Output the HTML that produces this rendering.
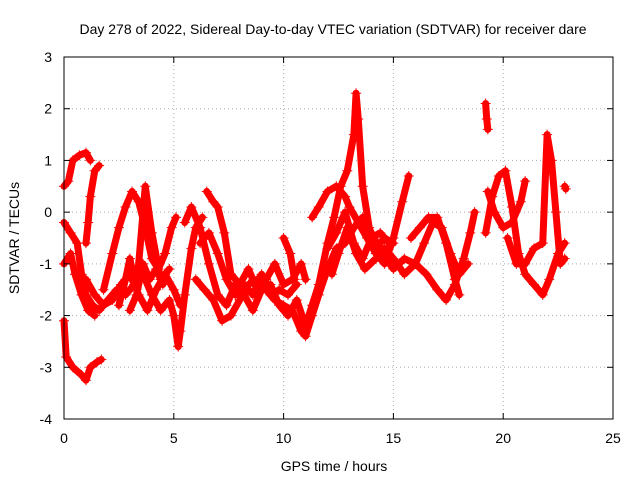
<!DOCTYPE html>
<html><head><meta charset="utf-8"><style>
body{margin:0;background:#fff;}
svg{display:block;font-family:"Liberation Sans",sans-serif;}
</style></head><body>
<svg id="chart" width="640" height="480" viewBox="0 0 640 480">
<rect x="0" y="0" width="640" height="480" fill="#fff"/>
<text x="333" y="34" font-size="14" text-anchor="middle">Day 278 of 2022, Sidereal Day-to-day VTEC variation (SDTVAR) for receiver dare</text>
<text x="334" y="471" font-size="14" text-anchor="middle">GPS time / hours</text>
<text x="0" y="0" font-size="14" text-anchor="middle" transform="translate(19,238) rotate(-90)">SDTVAR / TECUs</text>
<g id="grid"></g>
<g id="marks"></g>
<rect x="64" y="57" width="549" height="362" fill="none" stroke="#000" stroke-width="1"/>
<g id="axes"></g>
</svg>
<script>
const xTicks = [0,5,10,15,20,25];
const yTicks = [3,2,1,0,-1,-2,-3,-4];
const tracks = [
[[0,-2.1],[0.1,-2.8],[0.4,-3.0],[0.8,-3.15],[1.0,-3.25],[1.2,-3.0],[1.5,-2.9],[1.7,-2.85]],
[[0,0.5],[0.2,0.6],[0.4,1.0],[0.7,1.1],[1.0,1.15],[1.2,1.0]],
[[1.0,-0.6],[1.1,-0.2],[1.2,0.3],[1.4,0.8],[1.6,0.9]],
[[0,-0.2],[0.3,-0.4],[0.6,-0.6],[0.8,-1.2],[1.0,-1.6],[1.3,-1.8],[1.6,-1.9],[2.0,-1.7],[2.4,-1.5],[2.8,-1.6],[3.2,-1.4],[3.6,-1.2],[4.0,-1.6],[4.4,-1.9],[4.8,-1.7],[5.0,-2.0],[5.2,-2.6],[5.3,-2.3],[5.5,-1.6],[5.8,-0.7],[6.0,-0.3],[6.3,-0.1]],
[[0,-1.0],[0.3,-0.8],[0.5,-1.2],[0.8,-1.6],[1.1,-1.9],[1.4,-2.0]],
[[1.8,-1.5],[2.2,-0.8],[2.5,-0.3],[2.8,0.1],[3.1,0.4],[3.4,0.2],[3.7,-0.3],[4.0,-0.9],[4.3,-1.1],[4.6,-0.8],[4.9,-0.3],[5.1,-0.1]],
[[2.5,-1.8],[2.8,-1.3],[3.0,-0.9],[3.3,-1.5],[3.7,0.5],[4.0,-0.4],[4.4,-1.3],[4.8,-1.1]],
[[1.0,-1.3],[1.4,-1.6],[1.8,-1.8],[2.2,-1.7],[2.6,-1.4],[3.0,-1.2],[3.4,-1.6],[3.8,-1.9],[4.2,-1.5],[4.6,-1.2],[5.0,-1.5],[5.3,-1.8]],
[[3.0,-1.9],[3.3,-1.6],[3.6,-1.0],[3.9,-1.3],[4.2,-1.1],[4.5,-1.4]],
[[5.5,-0.2],[5.8,0.1],[6.2,-0.3],[6.6,-1.0],[7.0,-1.6],[7.4,-1.8],[7.8,-1.4],[8.2,-1.6],[8.6,-1.9],[9.0,-1.5],[9.4,-1.4],[9.8,-1.8],[10.2,-2.0],[10.6,-1.7],[11.0,-2.2],[11.3,-1.8],[11.6,-1.4],[12.0,-0.6],[12.3,-0.1],[12.6,0.5],[12.9,0.8],[13.2,1.5],[13.3,2.3],[13.4,1.8],[13.6,0.5],[13.9,-0.3],[14.2,-0.7],[14.6,-0.5],[15,-0.6]],
[[6.5,0.4],[6.8,0.2],[7.0,0.1],[7.3,-0.4],[7.6,-1.2],[8.0,-1.4],[8.4,-1.1],[8.8,-1.5],[9.2,-1.3],[9.6,-1.0],[10.0,-1.4],[10.4,-1.3],[10.8,-1.0],[11.0,-1.3]],
[[6.0,-1.3],[6.4,-1.5],[6.8,-1.7],[7.2,-2.1],[7.6,-2.0],[8.0,-1.7],[8.4,-1.4],[8.8,-1.3],[9.2,-1.5],[9.6,-1.7],[10.0,-1.8],[10.4,-1.9],[10.8,-2.3],[11.0,-2.4],[11.3,-2.0],[11.6,-1.6],[12.0,-1.1],[12.4,-0.7],[12.8,-0.6],[13.2,-0.3],[13.6,-0.1],[14.0,-0.4],[14.5,-0.8],[15.0,-1.1],[15.5,-0.9],[16.0,-1.0],[16.5,-1.2],[17.0,-1.5],[17.4,-1.7],[17.8,-1.4],[18.2,-0.9],[18.5,-0.4],[18.7,0]],
[[6.2,-0.6],[6.6,-0.4],[7.0,-0.8],[7.4,-1.3],[7.8,-1.6],[8.2,-1.4],[8.6,-1.6],[9.0,-1.2],[9.4,-1.6],[9.8,-1.5],[10.2,-1.6],[10.6,-1.4]],
[[10.0,-0.5],[10.3,-0.8],[10.5,-1.3]],
[[11.3,-0.1],[11.6,0.1],[12.0,0.4],[12.4,0.5],[12.8,0.3],[13.0,0.1],[13.4,-0.2],[13.8,-0.5],[14.2,-0.8],[14.6,-1.0],[15.0,-0.5],[15.4,0.2],[15.7,0.7]],
[[12.2,-1.2],[12.5,-0.8],[12.9,-0.3],[13.3,-0.8],[13.7,-1.1],[14.2,-0.9],[14.6,-0.7],[15.0,-0.9],[15.5,-1.2],[16.0,-1.0],[16.4,-0.6],[16.8,-0.2],[17.2,-0.3],[17.6,-0.8],[18.0,-1.2],[18.4,-1.0]],
[[12.0,-0.7],[12.4,-0.4],[12.8,0.0],[13.2,-0.6],[13.6,-0.9],[14.0,-0.5],[14.4,-0.4],[14.8,-0.6]],
[[15.8,-0.5],[16.2,-0.3],[16.6,-0.1],[17.0,-0.1],[17.4,-0.6],[17.8,-1.3],[18.0,-1.6]],
[[19.2,2.1],[19.25,1.8],[19.3,1.6]],
[[19.2,-0.4],[19.5,0.3],[19.8,0.7],[20.1,0.8],[20.4,0.1],[20.7,-0.8],[21.0,-1.2],[21.4,-1.4],[21.8,-1.6],[22.1,-1.3],[22.5,-0.8],[22.8,-0.6]],
[[19.3,0.4],[19.6,0.0],[20.0,-0.3],[20.4,-0.2],[20.8,0.2],[21.0,0.6]],
[[20.2,-0.5],[20.6,-1.0],[21.0,-1.0],[21.4,-0.7],[21.8,-0.6],[22.0,1.5],[22.2,1.0],[22.4,0.0],[22.6,-1.0],[22.8,-0.9]],
[[22.8,0.5],[22.85,0.45]]
];
const NS='http://www.w3.org/2000/svg';
const X0=64,X1=613,Y0=419,Y1=57;
function sx(t){return X0+(t-0)/(25-0)*(X1-X0);}
function sy(v){return Y0-(v-(-4))/(3-(-4))*(Y0-Y1);}
const grid=document.getElementById('grid'),axes=document.getElementById('axes'),marks=document.getElementById('marks');
function mk(tag,attrs,parent){const e=document.createElementNS(NS,tag);for(const k in attrs)e.setAttribute(k,attrs[k]);parent.appendChild(e);return e;}
xTicks.forEach(t=>{
  const x=sx(t);
  if(t>0&&t<25){const g=mk('line',{x1:x,x2:x,y1:Y1,y2:Y0,stroke:'#aaa','stroke-dasharray':'1,3'},grid);
  
  }
  mk('line',{x1:x,x2:x,y1:Y0,y2:Y0-6,stroke:'#000'},axes);
  mk('line',{x1:x,x2:x,y1:Y1,y2:Y1+6,stroke:'#000'},axes);
  const l=mk('text',{x:x,y:443,'font-size':14,'text-anchor':'middle'},axes);l.textContent=t;
  
  
});
yTicks.forEach(v=>{
  const y=sy(v);
  if(v>-4&&v<3){const g=mk('line',{x1:X0,x2:X1,y1:y,y2:y,stroke:'#aaa','stroke-dasharray':'1,3'},grid);
  
  }
  mk('line',{x1:X0,x2:X0+6,y1:y,y2:y,stroke:'#000'},axes);
  mk('line',{x1:X1,x2:X1-6,y1:y,y2:y,stroke:'#000'},axes);
  const l=mk('text',{x:52,y:y+5,'font-size':14,'text-anchor':'end'},axes);l.textContent=v;
  
  
});
tracks.forEach((tr,i)=>{
  const g=mk('g',{},marks);
  
  
  mk('polyline',{points:tr.map(p=>sx(p[0])+','+sy(p[1])).join(' '),fill:'none',stroke:'#f00','stroke-width':7,'stroke-linejoin':'round','stroke-linecap':'round'},g);
  tr.forEach(p=>{
    const x=sx(p[0]),y=sy(p[1]);
    const m=mk('path',{d:`M${x-5},${y}H${x+5}M${x},${y-5}V${y+5}`,stroke:'#f00','stroke-width':1},g);
    
    
  });
});
</script>
</body></html>
